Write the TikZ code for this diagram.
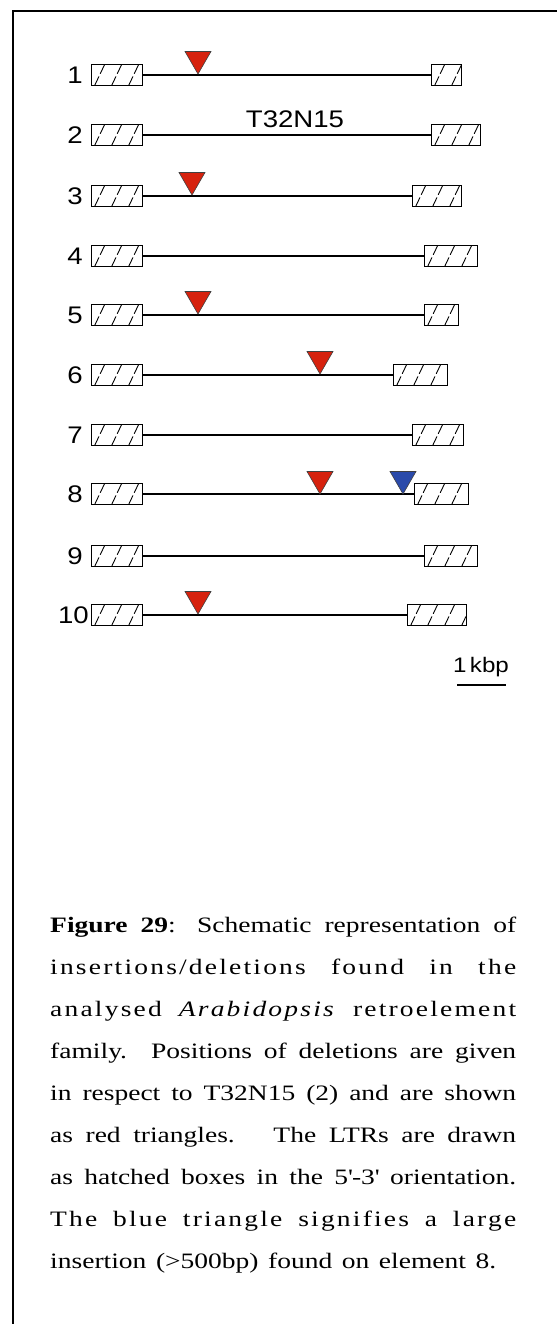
\documentclass[tikz,border=0pt]{standalone}
\usepackage{fontspec}
\setmainfont{Liberation Serif}[FakeStretch=1.25]
\newfontfamily\labfont[FakeStretch=1.15]{Liberation Sans}
\usetikzlibrary{shapes.geometric}
\definecolor{delred}{RGB}{214,34,14}
\definecolor{insblue}{RGB}{42,74,170}
\newcommand{\widesp}{\addfontfeature{LetterSpace=10}}
\begin{document}
\begin{tikzpicture}[x=1pt,y=-1pt,
  ltr/.style={draw=black, line width=1.3pt, fill=white, rectangle, inner sep=0pt,
    minimum height=21pt, anchor=west,
    path picture={
      \foreach \k in {-1,...,4}{
        \draw[line width=0.9pt, dash pattern=on 10pt off 3pt]
          ([xshift=\k*17pt+3pt]path picture bounding box.south west) -- ++(10pt,21pt);
      }
    }},
  conn/.style={line width=1.4pt, draw=black},
  tri/.style={regular polygon, regular polygon sides=3, shape border rotate=180,
    minimum size=30pt, inner sep=0pt, draw=black!75, line width=0.6pt},
  lab/.style={inner sep=0pt, font=\labfont\fontsize{24}{24}\selectfont},
  captxt/.style={inner sep=0pt, anchor=base west, font=\fontsize{22}{22}\selectfont}
]
\useasboundingbox (0,0) rectangle (557,1324);
\fill[white] (0,0) rectangle (557,1324);
% frame
\draw[line width=2pt] (13,1324) -- (13,11) -- (557,11);

% elements
\foreach \i/\y/\rx/\rw in {1/75/431/30, 2/135/431/49, 3/196/412/49, 4/256/424/53,
  5/315/424/34, 6/375/393/54, 7/435/412/51, 8/494/414/54, 9/556/424/53, 10/615/407/59}{
  \node[ltr, minimum width=51pt] (L\i) at (91,\y) {};
  \node[ltr, minimum width=\rw pt] (R\i) at (\rx,\y) {};
  \draw[conn] (L\i.east) -- (R\i.west);
}
\foreach \i/\y in {1/75,2/135,3/196,4/256,5/315,6/375,7/435,8/494,9/556}{
  \node[lab, anchor=east] (n\i) at (83,\y) {\i};
}
\node[lab, anchor=east] (n10) at (89,615) {10};

\node[lab, anchor=base] (name) at (295,128) {T32N15};

% deletions / insertion
\node[tri, fill=delred] (t1) at (198,59) {};
\node[tri, fill=delred] (t3) at (192,180) {};
\node[tri, fill=delred] (t5) at (198,299) {};
\node[tri, fill=delred] (t6) at (320,359) {};
\node[tri, fill=delred] (t8a) at (320,479) {};
\node[tri, fill=insblue] (t8b) at (403,479) {};
\node[tri, fill=delred] (t10) at (198,599) {};

% scale bar
\node[lab, anchor=base, font=\labfont\fontsize{21}{21}\selectfont] (kbp) at (481,672) {1\,kbp};
\coordinate (sb1) at (457,685);
\coordinate (sb2) at (506,685);
\draw[line width=1.4pt] (sb1) -- (sb2);

% caption
\node[captxt] (c1) at (50,932) {\makebox[466pt][s]{\textbf{Figure 29}: Schematic representation of}};
\node[captxt] (c2) at (50,974) {\makebox[466pt][s]{\widesp insertions/deletions found in the}};
\node[captxt] (c3) at (50,1016) {\makebox[466pt][s]{\widesp analysed \textit{Arabidopsis} retroelement}};
\node[captxt] (c4) at (50,1058) {\makebox[466pt][s]{family. Positions of deletions are given}};
\node[captxt] (c5) at (50,1100) {\makebox[466pt][s]{in respect to T32N15 (2) and are shown}};
\node[captxt] (c6) at (50,1142) {\makebox[466pt][s]{as red triangles. \ The LTRs are drawn}};
\node[captxt] (c7) at (50,1184) {\makebox[466pt][s]{as hatched boxes in the 5\textquotesingle-3\textquotesingle{} orientation.}};
\node[captxt] (c8) at (50,1226) {\makebox[466pt][s]{\widesp The blue triangle signifies a large}};
\node[captxt] (c9) at (50,1268) {\makebox[446pt][s]{insertion (>500bp) found on element 8.}};
\end{tikzpicture}
\end{document}
